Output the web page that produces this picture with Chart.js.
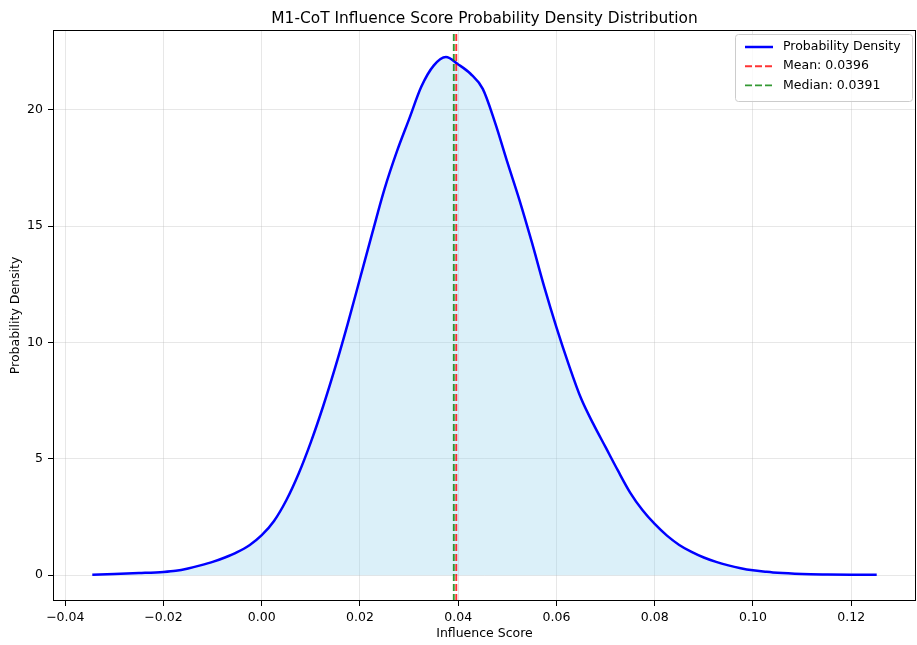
<!DOCTYPE html>
<html>
<head>
<meta charset="utf-8">
<script src="https://cdn.jsdelivr.net/npm/chart.js@4.4.0/dist/chart.umd.min.js"></script>
<style>
  body { margin: 0; background: #fff; }
  canvas { display: block; }
</style>
</head>
<body>
<canvas id="grafico" width="917" height="645"></canvas>
<script>
// Datos
const influenceScores = [-0.0345, -0.03, -0.025, -0.02, -0.0175, -0.015, -0.0125, -0.01, -0.0075, -0.005, -0.0025,
    0.0, 0.0025, 0.005, 0.0075, 0.01, 0.0125, 0.015, 0.0175, 0.02, 0.0225, 0.025, 0.0275, 0.03, 0.0325, 0.035, 0.0375,
    0.04, 0.0425, 0.045, 0.0475, 0.05, 0.0525, 0.055, 0.0575, 0.06, 0.0625, 0.065, 0.0675, 0.07, 0.0725, 0.075, 0.0775,
    0.08, 0.0825, 0.085, 0.0875, 0.09, 0.0925, 0.095, 0.0975, 0.10, 0.1025, 0.105, 0.11, 0.115, 0.12, 0.1252];
const densities = [0.02, 0.05, 0.09, 0.14, 0.19, 0.29, 0.42, 0.57, 0.76, 0.99, 1.29,
    1.72, 2.33, 3.22, 4.36, 5.72, 7.26, 8.96, 10.8, 12.75, 14.7, 16.6, 18.2, 19.6, 21.0, 21.9, 22.27,
    21.95, 21.55, 20.9, 19.45, 17.75, 16.1, 14.3, 12.4, 10.65, 9.05, 7.6, 6.5, 5.5, 4.5, 3.55, 2.8,
    2.2, 1.7, 1.3, 1.0, 0.76, 0.57, 0.42, 0.3, 0.21, 0.15, 0.10, 0.05, 0.03, 0.02, 0.02];
const meanScore = 0.0396;
const medianScore = 0.0391;
const xTicks = [-0.04, -0.02, 0.00, 0.02, 0.04, 0.06, 0.08, 0.10, 0.12];
const yTicks = [0, 5, 10, 15, 20];

const xMin = -0.0425, xMax = 0.1332;
const yMin = -1.11, yMax = 23.43;
const titulo = "M1-CoT Influence Score Probability Density Distribution";

Chart.defaults.font.family = "'DejaVu Sans', sans-serif";
Chart.defaults.color = "#000";

const fmtX = v => v.toFixed(2).replace("-", "\u2212");

// Título centrado sobre los ejes, marco completo y leyenda dentro del área
const marcoYLeyenda = {
    id: "marcoYLeyenda",
    afterDatasetsDraw(chart) {
        const { ctx, chartArea: a } = chart;
        ctx.save();
        ctx.strokeStyle = "#000";
        ctx.lineWidth = 1;
        ctx.strokeRect(Math.round(a.left) + 0.5, Math.round(a.top) + 0.5,
            Math.round(a.right - a.left) - 1, Math.round(a.bottom - a.top) - 1);

        ctx.fillStyle = "#000";
        ctx.font = "15.4px 'DejaVu Sans'";
        ctx.textAlign = "center";
        ctx.textBaseline = "alphabetic";
        ctx.fillText(titulo, (a.left + a.right) / 2, 23);

        // leyenda
        const x0 = a.right - 181, y0 = a.top + 4, w = 177, h = 67;
        ctx.fillStyle = "rgba(255,255,255,0.8)";
        ctx.strokeStyle = "#cccccc";
        ctx.beginPath();
        ctx.roundRect(x0 + 0.5, y0 + 0.5, w, h, 3);
        ctx.fill();
        ctx.stroke();
        ctx.font = "12.5px 'DejaVu Sans'";
        ctx.textAlign = "left";
        ctx.textBaseline = "middle";
        chart.data.datasets.forEach((ds, i) => {
            const cy = y0 + 13 + i * 19.2;
            ctx.strokeStyle = ds.borderColor;
            ctx.lineWidth = ds.borderWidth;
            ctx.setLineDash(ds.borderDash || []);
            ctx.beginPath();
            ctx.moveTo(x0 + 10, cy);
            ctx.lineTo(x0 + 38, cy);
            ctx.stroke();
            ctx.setLineDash([]);
            ctx.fillStyle = "#000";
            ctx.fillText(ds.label, x0 + 48, cy);
        });
        ctx.restore();
    }
};

const ctx = document.getElementById("grafico").getContext("2d");
new Chart(ctx, {
    type: "line",
    data: {
        datasets: [
            {
                label: "Probability Density",
                data: influenceScores.map((x, i) => ({ x, y: densities[i] })),
                borderColor: "#0000ff",
                borderWidth: 2.5,
                backgroundColor: "rgba(135,206,235,0.3)",
                fill: "origin",
                pointRadius: 0,
                cubicInterpolationMode: "monotone",
                order: 2
            },
            {
                label: `Mean: ${meanScore.toFixed(4)}`,
                data: [{ x: meanScore, y: yMin }, { x: meanScore, y: yMax }],
                borderColor: "rgba(255,0,0,0.8)",
                borderWidth: 1.9,
                borderDash: [7, 3],
                pointRadius: 0,
                fill: false,
                order: 1
            },
            {
                label: `Median: ${medianScore.toFixed(4)}`,
                data: [{ x: medianScore, y: yMin }, { x: medianScore, y: yMax }],
                borderColor: "rgba(0,128,0,0.8)",
                borderWidth: 1.9,
                borderDash: [7, 3],
                pointRadius: 0,
                fill: false,
                order: 0
            }
        ]
    },
    options: {
        responsive: false,
        animation: false,
        devicePixelRatio: 1,
        layout: { padding: { top: 30, right: 1, bottom: 0, left: 0 } },
        scales: {
            x: {
                type: "linear",
                min: xMin,
                max: xMax,
                afterBuildTicks: s => { s.ticks = xTicks.map(v => ({ value: v })); },
                afterFit: s => { s.height = 44; },
                ticks: {
                    callback: v => fmtX(v),
                    font: { size: 12.5 },
                    padding: 4,
                    maxRotation: 0,
                    autoSkip: false
                },
                grid: { color: "rgba(176,176,176,0.3)", tickColor: "#000", tickLength: 5, lineWidth: 1 },
                border: { display: false },
                title: { display: true, text: "Influence Score", font: { size: 12.5 }, padding: { top: 0, bottom: 3.5 } }
            },
            y: {
                type: "linear",
                min: yMin,
                max: yMax,
                afterBuildTicks: s => { s.ticks = yTicks.map(v => ({ value: v })); },
                afterFit: s => { s.width = 53; },
                ticks: { font: { size: 12.5 }, padding: 5 },
                grid: { color: "rgba(176,176,176,0.3)", tickColor: "#000", tickLength: 5, lineWidth: 1 },
                border: { display: false },
                title: { display: true, text: "Probability Density", font: { size: 12.5 }, padding: { top: 8.5, bottom: 0 } }
            }
        },
        plugins: {
            legend: { display: false },
            tooltip: { enabled: false },
            title: { display: false }
        }
    },
    plugins: [marcoYLeyenda]
});
</script>
</body>
</html>
